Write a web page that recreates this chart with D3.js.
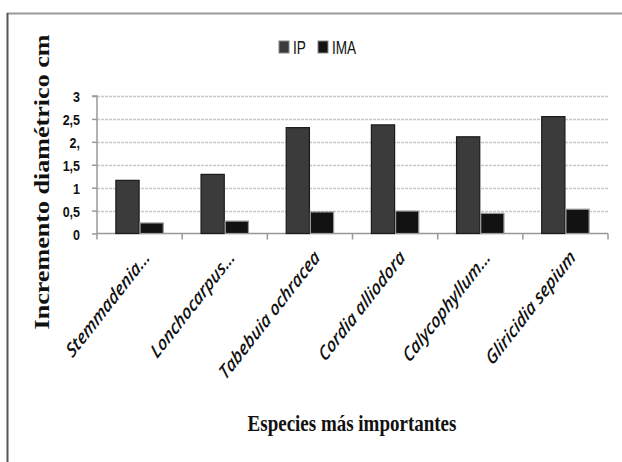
<!DOCTYPE html>
<html><head><meta charset="utf-8">
<script src="https://cdnjs.cloudflare.com/ajax/libs/d3/7.8.5/d3.min.js"></script>
<style>body{margin:0;background:#fff}svg{display:block}</style>
</head><body>
<script>
const categories = ["Stemmadenia...", "Lonchocarpus...", "Tabebuia ochracea", "Cordia alliodora", "Calycophyllum...", "Gliricidia sepium"];
const seriesNames = ["IP", "IMA"];
const ipValues = [1.16, 1.29, 2.31, 2.37, 2.11, 2.55];
const imaValues = [0.23, 0.27, 0.47, 0.49, 0.44, 0.53];
const yTicks = [0, 0.5, 1, 1.5, 2, 2.5, 3];
const yTickLabels = ["0", "0,5", "1", "1,5", "2,", "2,5", "3"];
const colors = ["#3b3b3b", "#121212"];

const W = 622, H = 462;
const SY = 1.2; // vertical stretch of the original picture
const svg = d3.select("body").append("svg").attr("width", W).attr("height", H);

// frame
svg.append("line").attr("x1", 7).attr("x2", W).attr("y1", 13.5).attr("y2", 13.5).attr("stroke", "#9a9a9a").attr("stroke-width", 2);
svg.append("line").attr("x1", 7.5).attr("x2", 7.5).attr("y1", 13).attr("y2", H).attr("stroke", "#555").attr("stroke-width", 2);

const m = {left: 97, right: 608, top: 96, bottom: 233.5};
const x0 = d3.scaleBand().domain(categories).range([m.left, m.right]).paddingInner(0).paddingOuter(0);
const x1 = d3.scaleBand().domain(seriesNames).range([0, x0.bandwidth()]).paddingInner(0.04).paddingOuter(0.78);
const y = d3.scaleLinear().domain([0, 3]).range([m.bottom, m.top]);

// gridlines
svg.append("g").selectAll("line").data(yTicks.filter(d => d > 0)).join("line")
  .attr("x1", m.left).attr("x2", m.right)
  .attr("y1", d => Math.round(y(d)) + 0.5).attr("y2", d => Math.round(y(d)) + 0.5)
  .attr("stroke", "#c8c8c8").attr("stroke-dasharray", "3,1").attr("stroke-width", 1.3);

// y axis
const yAxis = d3.axisLeft(y).tickValues(yTicks).tickFormat((d, i) => yTickLabels[i]).tickSize(5).tickPadding(0);
const gy = svg.append("g").attr("transform", `translate(${m.left},0)`).call(yAxis);
gy.select(".domain").attr("stroke", "#999").attr("stroke-width", 1.5).attr("d", `M-5,${m.top}H0V${m.bottom}`);
gy.selectAll(".tick line").attr("stroke", "#999").attr("stroke-width", 1.5);
gy.selectAll(".tick text").attr("fill", "#111").attr("x", 0).attr("dy", null)
  .attr("transform", `translate(-17,0) scale(1,${SY})`).attr("y", 4.6)
  .style("font-family", "'Liberation Sans', Arial, sans-serif")
  .style("font-size", "12.5px").style("font-weight", "bold");

// x axis
const xAxis = d3.axisBottom(x0).tickSize(6).tickFormat("");
const gx = svg.append("g").attr("transform", `translate(0,${m.bottom})`).call(xAxis);
gx.select(".domain").attr("stroke", "#999").attr("stroke-width", 1.5).attr("d", `M${m.left},0H${m.right}`);
gx.selectAll(".tick").remove();
const edges = categories.map(c => x0(c)).concat([m.right]);
gx.selectAll("line.edge").data(edges).join("line").attr("class", "edge")
  .attr("x1", d => d).attr("x2", d => d).attr("y1", 0).attr("y2", 6)
  .attr("stroke", "#999").attr("stroke-width", 1.5);

// bars
const data = categories.map((c, i) => ({cat: c, vals: [ipValues[i], imaValues[i]]}));
const groups = svg.append("g").selectAll("g").data(data).join("g")
  .attr("transform", d => `translate(${x0(d.cat)},0)`);
groups.selectAll("rect").data(d => d.vals.map((v, j) => ({s: seriesNames[j], v, j}))).join("rect")
  .attr("x", d => x1(d.s)).attr("width", x1.bandwidth())
  .attr("y", d => y(d.v)).attr("height", d => y(0) - y(d.v))
  .attr("fill", d => colors[d.j]).attr("stroke", d => d.j === 0 ? "#1a1a1a" : "#9a9a9a").attr("stroke-width", 1.2);

// category labels
svg.append("g").selectAll("text").data(categories).join("text")
  .attr("transform", d => `translate(${x0(d) + x0.bandwidth() / 2 + 11},${m.bottom + 25}) scale(1,1.28) rotate(-45)`)
  .attr("text-anchor", "end")
  .style("font-family", "'Open Sans', sans-serif").style("font-style", "italic").style("font-weight", "600")
  .style("font-size", "15.5px").attr("fill", "#111")
  .text(d => d);

// y title
svg.append("text").attr("transform", `translate(49,182) scale(1,1.243) rotate(-90)`).attr("text-anchor", "middle")
  .style("font-family", "'Liberation Serif', 'Times New Roman', serif").style("font-weight", "bold").style("font-size", "21px")
  .attr("fill", "#111").text("Incremento diamétrico cm");

// x title
svg.append("text").attr("transform", `translate(352,431) scale(1,${SY})`).attr("text-anchor", "middle")
  .style("font-family", "'Liberation Serif', 'Times New Roman', serif").style("font-weight", "bold").style("font-size", "19px")
  .attr("fill", "#111").text("Especies más importantes");

// legend
const legendX = [279, 318];
const lg = svg.append("g").selectAll("g").data(seriesNames).join("g")
  .attr("transform", (d, i) => `translate(${legendX[i]},41)`);
lg.append("rect").attr("width", 10).attr("height", 12).attr("fill", (d, i) => colors[i]).attr("stroke", "#888").attr("stroke-width", 1);
lg.append("text").attr("transform", `translate(14,13) scale(0.85,${SY})`)
  .style("font-family", "'Liberation Sans', Arial, sans-serif").style("font-size", "16px")
  .attr("fill", "#111").text(d => d);
</script>
</body></html>
